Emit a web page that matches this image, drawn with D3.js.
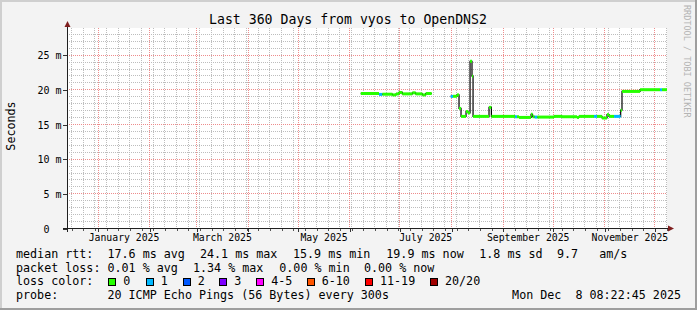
<!DOCTYPE html>
<html lang="en">
<head>
    <meta charset="utf-8">
    <title>Last 360 Days from vyos to OpenDNS2</title>
    <style>
        body { margin: 0; }
        svg { display: block; font-family: "DejaVu Sans Mono", monospace; }
        text { white-space: pre; }
    </style>
    <script src="https://cdn.jsdelivr.net/npm/d3@7"></script>
</head>
<body>
    <svg id="chart"></svg>
    <script>
        // ---- data ----
        // each step holds its median rtt (ms) from its start until the next step starts
        var stepStart = [
            "2025-06-07T20:00", "2025-06-18T19:00", "2025-06-20T19:00", "2025-06-26T19:00",
            "2025-06-29T00:00", "2025-06-30T19:00", "2025-07-02T19:00", "2025-07-08T19:00",
            "2025-07-10T19:00", "2025-07-14T19:00", "2025-07-16T19:00", "2025-07-20T10:00",
            "2025-07-31T19:00", "2025-08-02T05:00", "2025-08-04T14:00", "2025-08-05T19:00",
            "2025-08-07T00:00", "2025-08-10T00:00", "2025-08-11T05:00", "2025-08-12T10:00",
            "2025-08-13T14:00", "2025-08-14T05:00", "2025-08-23T19:00", "2025-08-25T05:00",
            "2025-09-08T10:00", "2025-09-09T14:00", "2025-09-10T19:00", "2025-09-18T00:00",
            "2025-09-18T22:00", "2025-09-20T05:00", "2025-09-21T19:00", "2025-10-01T19:00",
            "2025-10-06T14:00", "2025-10-15T14:00", "2025-10-16T19:00", "2025-10-25T19:00",
            "2025-10-27T14:00", "2025-10-30T14:00", "2025-11-02T14:00", "2025-11-03T19:00",
            "2025-11-06T19:00", "2025-11-10T19:00", "2025-11-11T14:00", "2025-11-22T10:00",
            "2025-12-04T10:00", "2025-12-05T14:00"
        ];
        var medianMs = [
            19.40, 19.27, 19.30, 19.20,
            19.35, 19.55, 19.35, 19.50,
            19.35, 19.20, 19.40, null,
            18.98, 19.00, 19.20, 17.25,
            16.10, 16.80, 16.60, 24.05,
            21.90, 16.10, 17.40, 16.10,
            16.05, 16.05, 15.95, 16.40,
            16.05, 16.00, 16.00, 16.10,
            16.05, 15.95, 16.10, 16.10,
            16.10, 15.87, 16.35, 16.10,
            16.10, 17.00, 19.70, 19.95,
            19.95, 19.95
        ];
        // index into lossLabels / lossColors
        var lossIdx = [
            0, 1, 0, 0,
            0, 0, 0, 0,
            0, 0, 0, 0,
            1, 0, 0, 0,
            0, 0, 0, 0,
            0, 0, 0, 0,
            1, 0, 0, 0,
            0, 1, 0, 0,
            0, 0, 0, 1,
            0, 0, 0, 0,
            1, 0, 0, 0,
            1, 0
        ];
        var lossLabels = ["0", "1", "2", "3", "4-5", "6-10", "11-19", "20/20"];
        var lossColors = ["#26ff00", "#00b8ff", "#0059ff", "#7e00ff", "#ff00ff", "#ff5500", "#ff0000", "#a00000"];

        var yTicks = [0, 5, 10, 15, 20, 25];
        var labelMonths = ["2025-01-01", "2025-03-01", "2025-05-01", "2025-07-01", "2025-09-01", "2025-11-01"];

        var rttStats = [17.6, 24.1, 15.9, 19.9];   // avg max min now
        var rttSd = 1.8, rttAmS = 9.7;
        var lossStats = [0.01, 1.34, 0.00, 0.00];  // avg max min now

        var graphStart = "2024-12-13T14:00", graphEnd = "2025-12-08T14:00";

        // ---- layout ----
        var W = 697, H = 310;
        var margin = {top: 28, right: 30, bottom: 82, left: 67},
            width = 600, height = 200;
        var parse = d3.utcParse("%Y-%m-%dT%H:%M"),
            parseDay = d3.utcParse("%Y-%m-%d");
        var t0 = parse(graphStart), t1 = parse(graphEnd);

        var x = d3.scaleUtc().domain([t0, t1]).range([margin.left, margin.left + width]);
        var y = d3.scaleLinear().domain([0, 28.85]).range([margin.top + height, margin.top]);
        var px = function(v) { return Math.round(v) + 0.5; };

        var svg = d3.select("#chart").attr("width", W).attr("height", H);

        // background and bevel
        svg.append("rect").attr("width", W).attr("height", H).attr("fill", "#f3f3f3");
        svg.append("rect").attr("width", W).attr("height", 2).attr("fill", "#cfcfcf");
        svg.append("rect").attr("width", 2).attr("height", H).attr("fill", "#cfcfcf");
        svg.append("rect").attr("x", W - 2).attr("width", 2).attr("height", H).attr("fill", "#9e9e9e");
        svg.append("rect").attr("y", H - 2).attr("width", W).attr("height", 2).attr("fill", "#9e9e9e");

        // canvas
        svg.append("rect")
            .attr("x", margin.left).attr("y", margin.top)
            .attr("width", width).attr("height", height)
            .attr("fill", "#ffffff");

        var grid = svg.append("g").attr("stroke-width", 1).attr("stroke-dasharray", "1,1");

        // minor horizontal grid, every ms
        grid.selectAll(".hmin")
            .data(d3.range(1, 29).filter(function(v) { return v % 5 !== 0; }))
            .enter().append("path")
            .attr("d", function(d) { return "M" + margin.left + "," + px(y(d)) + "H" + (margin.left + width); })
            .attr("stroke", "#bdbdbd");

        // minor vertical grid, weekly on mondays
        var weeks = d3.utcMonday.range(t0, t1);
        grid.selectAll(".vmin")
            .data(weeks)
            .enter().append("path")
            .attr("d", function(d) { return "M" + px(x(d)) + "," + margin.top + "V" + (margin.top + height); })
            .attr("stroke", "#bdbdbd");

        // major grid
        var months = d3.utcMonth.range(t0, t1);
        grid.selectAll(".vmaj")
            .data(months)
            .enter().append("path")
            .attr("d", function(d) { return "M" + px(x(d)) + "," + margin.top + "V" + (margin.top + height); })
            .attr("stroke", "#ee8c8c");
        grid.selectAll(".hmaj")
            .data(yTicks.slice(1))
            .enter().append("path")
            .attr("d", function(d) { return "M" + margin.left + "," + px(y(d)) + "H" + (margin.left + width); })
            .attr("stroke", "#ee8c8c");

        // ---- median rtt ----
        var steps = stepStart.map(function(s, i) {
            return {
                t0: parse(s),
                t1: i + 1 < stepStart.length ? parse(stepStart[i + 1]) : t1,
                v: medianMs[i],
                loss: lossIdx[i]
            };
        });

        // dark step line, broken where there is no data
        var pts = [];
        steps.forEach(function(s) {
            if (s.v === null) { pts.push(null); return; }
            pts.push([s.t0, s.v], [s.t1, s.v]);
        });
        var line = d3.line()
            .defined(function(d) { return d !== null; })
            .x(function(d) { return x(d[0]); })
            .y(function(d) { return y(d[1]); });
        svg.append("path")
            .datum(pts)
            .attr("d", line)
            .attr("fill", "none")
            .attr("stroke", "#000")
            .attr("stroke-width", 1.2);

        // coloured median by loss
        svg.selectAll(".med")
            .data(steps.filter(function(s) { return s.v !== null; }))
            .enter().append("line")
            .attr("x1", function(d) { return x(d.t0); })
            .attr("x2", function(d) { return x(d.t1); })
            .attr("y1", function(d) { return y(d.v); })
            .attr("y2", function(d) { return y(d.v); })
            .attr("stroke", function(d) { return lossColors[d.loss]; })
            .attr("stroke-width", 3);

        // ---- axes ----
        var yAxis = svg.append("g")
            .attr("transform", "translate(" + (margin.left + 0.5) + ",0.5)")
            .call(d3.axisLeft(y)
                .tickValues(yTicks)
                .tickSize(5)
                .tickPadding(1)
                .tickFormat(function(d) { return d === 0 ? "0  " : d + " m"; }));
        yAxis.select(".domain").remove();
        yAxis.selectAll(".tick line").attr("stroke", "#333").attr("shape-rendering", "crispEdges");
        yAxis.selectAll(".tick text")
            .attr("font-family", "DejaVu Sans Mono")
            .attr("font-size", "10px")
            .attr("fill", "#000")
            .attr("dy", "0.35em");

        // x axis: minor ticks weekly, major ticks monthly, labels mid-month
        var xAxisMinor = svg.append("g")
            .attr("transform", "translate(0.5," + (margin.top + height + 0.5) + ")")
            .call(d3.axisBottom(x).tickValues(weeks).tickSize(2).tickFormat(""));
        xAxisMinor.select(".domain").remove();
        var xAxisMajor = svg.append("g")
            .attr("transform", "translate(0.5," + (margin.top + height + 0.5) + ")")
            .call(d3.axisBottom(x).tickValues(months).tickSize(3).tickFormat(""));
        xAxisMajor.select(".domain").remove();
        svg.selectAll(".tick line").attr("shape-rendering", "crispEdges");
        xAxisMinor.selectAll(".tick line").attr("stroke", "#555");
        xAxisMajor.selectAll(".tick line").attr("stroke", "#333");

        var labelDates = labelMonths.map(function(s) {
            var a = parseDay(s);
            return new Date((+a + +d3.utcMonth.offset(a, 1)) / 2);
        });
        var xAxisLabels = svg.append("g")
            .attr("transform", "translate(0," + (margin.top + height) + ")")
            .call(d3.axisBottom(x)
                .tickValues(labelDates)
                .tickSize(0)
                .tickPadding(6)
                .tickFormat(d3.utcFormat("%B %Y")));
        xAxisLabels.select(".domain").remove();
        xAxisLabels.selectAll(".tick text")
            .attr("font-family", "DejaVu Sans Mono")
            .attr("font-size", "9.8px")
            .attr("fill", "#000");

        // axis lines with arrows
        var axisG = svg.append("g").attr("shape-rendering", "crispEdges");
        axisG.append("line")
            .attr("x1", margin.left - 4).attr("x2", margin.left + width + 1)
            .attr("y1", margin.top + height + 0.5).attr("y2", margin.top + height + 0.5)
            .attr("stroke", "#1f1f1f");
        axisG.append("line")
            .attr("x1", margin.left + 0.5).attr("x2", margin.left + 0.5)
            .attr("y1", margin.top + height + 4).attr("y2", margin.top - 2)
            .attr("stroke", "#1f1f1f");
        svg.append("path")
            .attr("d", "M" + (margin.left + 0.5) + "," + (margin.top - 7) +
                "L" + (margin.left - 2.5) + "," + (margin.top - 1) +
                "L" + (margin.left + 3.5) + "," + (margin.top - 1) + "Z")
            .attr("fill", "#7f1f1f");
        svg.append("path")
            .attr("d", "M" + (margin.left + width + 7) + "," + (margin.top + height + 0.5) +
                "L" + (margin.left + width + 1) + "," + (margin.top + height - 2.5) +
                "L" + (margin.left + width + 1) + "," + (margin.top + height + 3.5) + "Z")
            .attr("fill", "#7f1f1f");

        // ---- titles ----
        svg.append("text")
            .attr("x", 348).attr("y", 23.5)
            .attr("text-anchor", "middle")
            .attr("font-size", "13.2px")
            .text("Last 360 Days from vyos to OpenDNS2");

        svg.append("text")
            .attr("transform", "translate(14.5,126) rotate(-90)")
            .attr("text-anchor", "middle")
            .attr("font-size", "11.7px")
            .text("Seconds");

        svg.append("text")
            .attr("transform", "translate(684,5) rotate(90)")
            .attr("font-size", "8.5px")
            .attr("fill", "#b4b4b4")
            .text("RRDTOOL / TOBI OETIKER");

        // ---- legend ----
        var legend = svg.append("g").attr("font-size", "11.7px").attr("fill", "#000");
        var f1 = d3.format(".1f"), f2 = d3.format(".2f");
        var rows = [
            {y: 258, items: [
                ["median rtt:  " + f1(rttStats[0]) + " ms avg", 16],
                [f1(rttStats[1]) + " ms max", 200],
                [f1(rttStats[2]) + " ms min", 293],
                [f1(rttStats[3]) + " ms now", 386.3],
                [f1(rttSd) + " ms sd", 479.3],
                [f1(rttAmS) + "   am/s", 557]
            ]},
            {y: 271.5, items: [
                ["packet loss: " + f2(lossStats[0]) + " % avg", 16],
                [f2(lossStats[1]) + " % max", 193],
                [f2(lossStats[2]) + " % min", 279.3],
                [f2(lossStats[3]) + " % now", 364]
            ]},
            {y: 285, items: [["loss color:", 16]]},
            {y: 298.5, items: [
                ["probe:       20 ICMP Echo Pings (56 Bytes) every 300s", 16]
            ]}
        ];
        rows.forEach(function(r) {
            legend.selectAll(null)
                .data(r.items)
                .enter().append("text")
                .attr("x", function(d) { return d[1]; })
                .attr("y", r.y)
                .text(function(d) { return d[0]; });
        });
        legend.append("text")
            .attr("x", 681).attr("y", 298.5)
            .attr("text-anchor", "end")
            .text("Mon Dec  8 08:22:45 2025");

        var boxX = [108.3, 145.7, 182.7, 219.3, 256.3, 306.7, 365, 430];
        var lossKey = legend.selectAll(".key")
            .data(lossLabels)
            .enter().append("g");
        lossKey.append("rect")
            .attr("x", function(d, i) { return Math.round(boxX[i]) + 0.5; })
            .attr("y", 278.5)
            .attr("width", 7).attr("height", 7)
            .attr("fill", function(d, i) { return lossColors[i]; })
            .attr("stroke", "#000");
        lossKey.append("text")
            .attr("x", function(d, i) { return boxX[i] + 15; })
            .attr("y", 285)
            .text(function(d) { return d; });
    </script>
</body>
</html>
